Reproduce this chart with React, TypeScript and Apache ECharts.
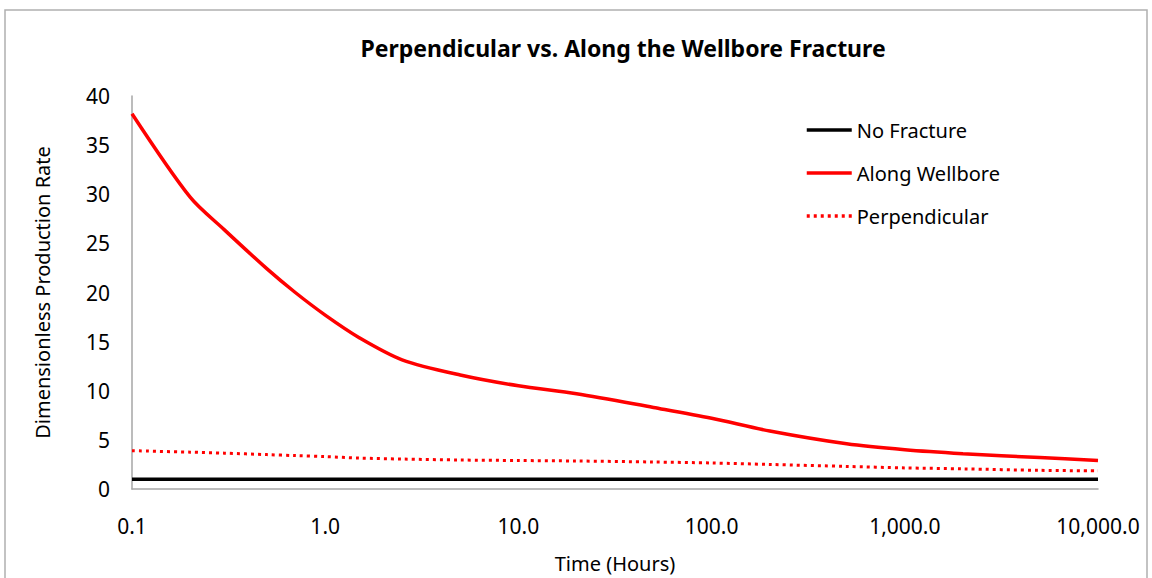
import React, { useEffect, useRef } from "react";
import * as echarts from "echarts";

const TITLE = "Perpendicular vs. Along the Wellbore Fracture";
const X_NAME = "Time (Hours)";
const Y_NAME = "Dimensionless Production Rate";

const timeHours = [0.1, 0.2, 0.3, 0.5, 0.7, 1, 1.5, 2.5, 5, 10, 20, 50, 100, 200, 500, 1000, 2000, 5000, 10000];
const noFracture = [1, 1, 1, 1, 1, 1, 1, 1, 1, 1, 1, 1, 1, 1, 1, 1, 1, 1, 1];
const alongWellbore = [38.2, 29.7, 26.4, 22.4, 20.0, 17.7, 15.4, 13.15, 11.6, 10.5, 9.7, 8.3, 7.2, 5.9, 4.6, 4.0, 3.6, 3.2, 2.9];
const perpendicular = [3.9, 3.75, 3.65, 3.5, 3.4, 3.3, 3.15, 3.05, 2.95, 2.9, 2.85, 2.75, 2.65, 2.5, 2.3, 2.15, 2.05, 1.9, 1.85];

const FONT = "'Noto Sans', sans-serif";

function pairs(xs: number[], ys: number[]) {
  return xs.map((x, i) => [x, ys[i]]);
}

function fmtX(v: number) {
  const r = Math.round(v * 10) / 10;
  return r.toLocaleString("en-US", { minimumFractionDigits: 1, maximumFractionDigits: 1 });
}

export default function App() {
  const ref = useRef<HTMLDivElement>(null);
  useEffect(() => {
    if (!ref.current) return;
    const chart = echarts.init(ref.current, null, { renderer: "svg" });
    chart.setOption({
      animation: false,
      backgroundColor: "#fff",
      title: {
        text: TITLE,
        left: 618,
        top: 31,
        textAlign: "center",
        textStyle: { fontFamily: FONT, fontSize: 23, fontWeight: "bold", color: "#000" },
      },
      graphic: [
        {
          type: "rect",
          shape: { x: 5, y: 10, width: 1142, height: 600 },
          style: { fill: "none", stroke: "#b0b0b0", lineWidth: 1.5 },
          silent: true,
        },
      ],
      legend: {
        orient: "vertical",
        left: 800,
        top: 115,
        itemWidth: 45,
        itemHeight: 12,
        itemGap: 23,
        itemStyle: { opacity: 0 },
        lineStyle: { width: 3.5 },
        textStyle: { fontFamily: FONT, fontSize: 20, color: "#000" },
        data: ["No Fracture", "Along Wellbore", "Perpendicular"],
      },
      grid: { left: 132, right: 54, top: 96, bottom: 89, containLabel: false },
      xAxis: {
        type: "log",
        logBase: 10,
        min: 0.1,
        max: 10000,
        name: X_NAME,
        nameLocation: "middle",
        nameGap: 64,
        nameTextStyle: { fontFamily: FONT, fontSize: 20, color: "#000" },
        axisLine: { lineStyle: { color: "#a6a6a6", width: 1.5 } },
        axisTick: { show: false },
        splitLine: { show: false },
        minorTick: { show: false },
        axisLabel: {
          margin: 26,
          fontFamily: FONT,
          fontSize: 21,
          color: "#000",
          formatter: (v: number) => fmtX(v),
        },
      },
      yAxis: {
        type: "value",
        min: 0,
        max: 40,
        interval: 5,
        name: Y_NAME,
        nameLocation: "middle",
        nameGap: 80,
        nameTextStyle: { fontFamily: FONT, fontSize: 20, color: "#000" },
        axisLine: { show: true, lineStyle: { color: "#a6a6a6", width: 1.5 } },
        axisTick: { show: false },
        splitLine: { show: false },
        axisLabel: { margin: 22, fontFamily: FONT, fontSize: 21, color: "#000" },
      },
      series: [
        {
          name: "No Fracture",
          type: "line",
          data: pairs(timeHours, noFracture),
          symbol: "none",
          lineStyle: { color: "#000", width: 3.5 },
          itemStyle: { color: "#000" },
        },
        {
          name: "Along Wellbore",
          type: "line",
          data: pairs(timeHours, alongWellbore),
          symbol: "none",
          smooth: 0.3,
          lineStyle: { color: "#ff0000", width: 3.5 },
          itemStyle: { color: "#ff0000" },
        },
        {
          name: "Perpendicular",
          type: "line",
          data: pairs(timeHours, perpendicular),
          symbol: "none",
          smooth: 0.3,
          lineStyle: { color: "#ff0000", width: 3, type: [3, 4] },
          itemStyle: { color: "#ff0000" },
        },
      ],
    });
    return () => chart.dispose();
  }, []);
  return (
    <div
      ref={ref}
      style={{ position: "fixed", left: 0, top: 0, width: 1152, height: 578 }}
    />
  );
}
